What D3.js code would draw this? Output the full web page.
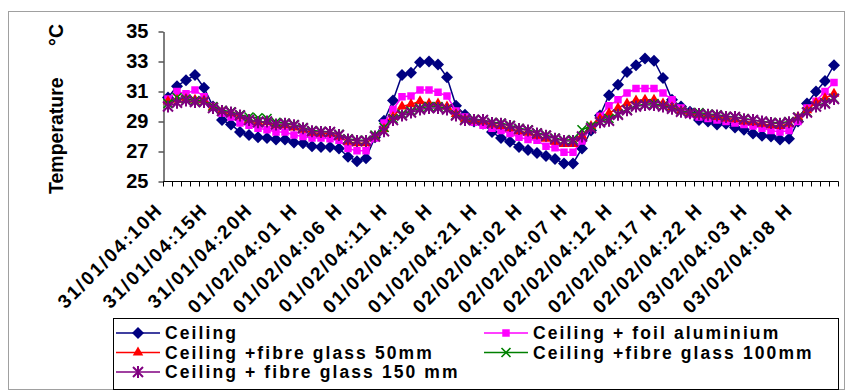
<!DOCTYPE html>
<html>
<head>
<meta charset="utf-8">
<script src="https://cdn.jsdelivr.net/npm/d3@7"></script>
<style>
  body { margin: 0; background: #fff; }
  text { font-family: Arial, "Liberation Sans", sans-serif; font-weight: bold; fill: #000; }
</style>
</head>
<body>
<div id="chart"></div>
<script>
// one reading per hour, 31/01/04 10H .. 03/02/04 12H
const tickLabels = ["31/01/04:10H", "31/01/04:15H", "31/01/04:20H", "01/02/04:01 H", "01/02/04:06 H",
  "01/02/04:11 H", "01/02/04:16 H", "01/02/04:21 H", "02/02/04:02 H", "02/02/04:07 H",
  "02/02/04:12 H", "02/02/04:17 H", "02/02/04:22 H", "03/02/04:03 H", "03/02/04:08 H"];

const ceiling = [30.6, 31.35, 31.75, 32.1, 31.25, 30.0, 29.1, 28.8, 28.3, 28.1,
  27.95, 27.9, 27.8, 27.8, 27.6, 27.55, 27.35, 27.3, 27.3, 27.2,
  26.65, 26.35, 26.55, 27.95, 29.05, 30.4, 32.1, 32.25, 32.95, 33.0,
  32.8, 31.95, 30.05, 29.45, 29.0, 28.85, 28.3, 27.9, 27.65, 27.3,
  27.1, 26.9, 26.7, 26.5, 26.2, 26.2, 27.2, 28.4, 29.4, 30.75,
  31.45, 32.3, 32.75, 33.2, 33.05, 31.9, 30.45, 30.0, 29.65, 29.1,
  29.0, 28.8, 28.85, 28.6, 28.45, 28.2, 28.05, 28.0, 27.8, 27.85,
  29.0, 30.2, 31.0, 31.7, 32.75];

const foilAlu = [30.5, 31.0, 30.85, 31.1, 30.65, 30.0, 29.55, 29.3, 28.9, 28.75,
  28.55, 28.45, 28.3, 28.3, 28.1, 28.0, 27.9, 27.9, 27.85, 27.75,
  27.2, 27.05, 27.05, 27.9, 28.9, 29.8, 30.65, 30.7, 31.1, 31.1,
  30.95, 30.7, 29.7, 29.3, 28.95, 28.75, 28.55, 28.4, 28.2, 27.95,
  27.8, 27.75, 27.35, 27.25, 26.95, 26.95, 27.7, 28.6, 29.35, 30.05,
  30.45, 30.9, 31.2, 31.2, 31.2, 30.9, 30.45, 29.9, 29.5, 29.3,
  29.2, 29.1, 29.0, 28.9, 28.8, 28.7, 28.55, 28.4, 28.3, 28.4,
  29.0, 29.9, 30.35, 31.0, 31.6];

const fibre50 = [30.35, 30.45, 30.5, 30.45, 30.4, 29.95, 29.7, 29.55, 29.35, 29.1,
  28.95, 28.95, 28.75, 28.75, 28.6, 28.45, 28.25, 28.2, 28.2, 28.0,
  27.65, 27.55, 27.55, 28.0, 28.5, 29.3, 30.0, 30.15, 30.35, 30.2,
  30.2, 30.0, 29.5, 29.15, 29.05, 29.0, 28.8, 28.7, 28.55, 28.35,
  28.25, 28.05, 27.85, 27.65, 27.5, 27.5, 28.05, 28.7, 29.2, 29.55,
  29.9, 30.2, 30.4, 30.45, 30.45, 30.2, 29.95, 29.7, 29.55, 29.45,
  29.4, 29.3, 29.2, 29.15, 29.0, 28.95, 28.85, 28.75, 28.7, 28.85,
  29.3, 29.75, 30.25, 30.55, 30.85];

const fibre100 = [30.2, 30.6, 30.5, 30.4, 30.35, 30.0, 29.75, 29.65, 29.45, 29.3,
  29.25, 29.2, 28.95, 28.9, 28.8, 28.6, 28.4, 28.35, 28.3, 28.15,
  27.85, 27.75, 27.75, 28.1, 28.6, 29.2, 29.5, 29.7, 29.9, 30.0,
  30.0, 29.85, 29.45, 29.15, 29.15, 29.1, 28.95, 28.9, 28.75, 28.55,
  28.45, 28.25, 28.1, 27.9, 27.75, 27.8, 28.45, 28.7, 29.0, 29.2,
  29.5, 29.8, 30.05, 30.15, 30.2, 30.05, 29.9, 29.7, 29.6, 29.6,
  29.5, 29.45, 29.35, 29.3, 29.2, 29.1, 29.0, 28.95, 28.9, 29.0,
  29.3, 29.65, 30.0, 30.25, 30.55];

const fibre150 = [30.0, 30.25, 30.4, 30.3, 30.3, 29.9, 29.7, 29.6, 29.4, 29.1,
  28.95, 29.0, 28.8, 28.85, 28.75, 28.55, 28.35, 28.3, 28.3, 28.1,
  27.8, 27.7, 27.7, 28.0, 28.35, 29.1, 29.4, 29.6, 29.8, 29.9,
  29.9, 29.8, 29.4, 29.1, 29.1, 29.1, 28.9, 28.85, 28.7, 28.5,
  28.4, 28.2, 28.05, 27.85, 27.7, 27.7, 28.0, 28.55, 28.95, 29.05,
  29.45, 29.75, 30.0, 30.1, 30.1, 30.0, 29.85, 29.65, 29.55, 29.5,
  29.45, 29.4, 29.3, 29.3, 29.15, 29.1, 29.0, 28.9, 28.85, 28.95,
  29.25, 29.6, 30.0, 30.2, 30.5];

const seriesNames = ["Ceiling", "Ceiling + foil aluminium", "Ceiling +fibre glass 50mm",
  "Ceiling +fibre glass 100mm", "Ceiling + fibre glass 150 mm"];
const yTicks = [25, 27, 29, 31, 33, 35];

(function () {

  const width = 846, height = 392;
  const plot = { left: 163.5, right: 838.5, top: 31.5, bottom: 181.5 };

  const svg = d3.select("#chart")
    .append("svg")
    .attr("width", width)
    .attr("height", height);

  // chart area border
  svg.append("rect")
    .attr("x", 8.5).attr("y", 11.5)
    .attr("width", 836).attr("height", 378)
    .attr("fill", "none")
    .attr("stroke", "#a0a0a0");

  const hours = d3.range(ceiling.length);
  const x = d3.scaleBand()
    .domain(hours)
    .range([plot.left, plot.right])
    .padding(0);
  const cx = i => x(i) + x.bandwidth() / 2;

  const y = d3.scaleLinear()
    .domain([25, 35])
    .range([plot.bottom, plot.top]);

  // Y axis
  const yAxis = svg.append("g")
    .attr("transform", `translate(${plot.left},0)`)
    .call(d3.axisLeft(y).tickValues(yTicks).tickSize(5).tickSizeOuter(0).tickPadding(10));
  yAxis.selectAll("text")
    .style("font-size", "20px");
  yAxis.selectAll("line, path").attr("stroke", "#000");

  svg.append("text")
    .attr("transform", `translate(63,194) rotate(-90)`)
    .style("font-size", "19.5px")
    .text("Temperature");
  svg.append("text")
    .attr("transform", `translate(63,24) rotate(-90)`)
    .attr("text-anchor", "end")
    .style("font-size", "19.5px")
    .text("°C");

  // X axis: ticks between hours
  const xAxis = svg.append("g");
  xAxis.append("line")
    .attr("x1", plot.left).attr("x2", plot.right)
    .attr("y1", plot.bottom).attr("y2", plot.bottom)
    .attr("stroke", "#000");
  xAxis.selectAll(".tk")
    .data(hours.concat([hours.length]))
    .join("line")
    .attr("x1", d => d < hours.length ? x(d) : plot.right)
    .attr("x2", d => d < hours.length ? x(d) : plot.right)
    .attr("y1", plot.bottom).attr("y2", plot.bottom + 5)
    .attr("stroke", "#000");

  xAxis.selectAll(".lbl")
    .data(tickLabels)
    .join("text")
    .attr("text-anchor", "end")
    .attr("transform", (d, k) => `translate(${cx(k * 5) - 4},211) rotate(-45)`)
    .style("font-size", "19px")
    .style("letter-spacing", "2px")
    .text(d => d);

  // markers
  const diamond = d3.symbol().type(d3.symbolSquare).size(72);
  const square = d3.symbol().type(d3.symbolSquare).size(56);
  const triangle = d3.symbol().type(d3.symbolTriangle).size(48);
  const cross = "M-4.5,-4.5L4.5,4.5M-4.5,4.5L4.5,-4.5";
  const star = "M-5,-5L5,5M-5,5L5,-5M0,-6L0,6";

  const series = [
    { name: seriesNames[0], values: ceiling, color: "#000080", mark: "diamond" },
    { name: seriesNames[1], values: foilAlu, color: "#ff00ff", mark: "square" },
    { name: seriesNames[2], values: fibre50, color: "#ff0000", mark: "triangle" },
    { name: seriesNames[3], values: fibre100, color: "#008000", mark: "cross" },
    { name: seriesNames[4], values: fibre150, color: "#800080", mark: "star" }
  ];

  function drawMark(g, s) {
    if (s.mark === "diamond") {
      g.append("path").attr("d", diamond()).attr("transform", "rotate(45)").attr("fill", s.color);
    } else if (s.mark === "square") {
      g.append("path").attr("d", square()).attr("fill", s.color);
    } else if (s.mark === "triangle") {
      g.append("path").attr("d", triangle()).attr("fill", s.color);
    } else if (s.mark === "cross") {
      g.append("path").attr("d", cross).attr("stroke", s.color).attr("stroke-width", 1.6).attr("fill", "none");
    } else {
      g.append("path").attr("d", star).attr("stroke", s.color).attr("stroke-width", 2).attr("fill", "none");
    }
  }

  const line = d3.line()
    .x((d, i) => cx(i))
    .y(d => y(d));

  series.forEach(s => {
    const g = svg.append("g");
    g.append("path")
      .datum(s.values)
      .attr("d", line)
      .attr("fill", "none")
      .attr("stroke", s.color)
      .attr("stroke-width", 1.5);
    g.selectAll("g.pt")
      .data(s.values)
      .join("g")
      .attr("transform", (d, i) => `translate(${cx(i)},${y(d)})`)
      .each(function () { drawMark(d3.select(this), s); });
  });

  // legend
  const legend = svg.append("g");
  legend.append("rect")
    .attr("x", 113.5).attr("y", 318.5)
    .attr("width", 725).attr("height", 71)
    .attr("fill", "#fff")
    .attr("stroke", "#000");

  const slots = [[116, 333], [484, 333], [116, 352.5], [484, 352.5], [116, 372]];
  series.forEach((s, k) => {
    const [lx, ly] = slots[k];
    const item = legend.append("g").attr("transform", `translate(${lx},${ly})`);
    item.append("line")
      .attr("x1", 0).attr("x2", 44)
      .attr("stroke", s.color).attr("stroke-width", 1.5);
    drawMark(item.append("g").attr("transform", "translate(22,0)"), s);
    item.append("text")
      .attr("x", 49).attr("y", 6)
      .style("font-size", "17.5px")
      .style("letter-spacing", "2.1px")
      .text(s.name);
  });

})();
</script>
</body>
</html>
